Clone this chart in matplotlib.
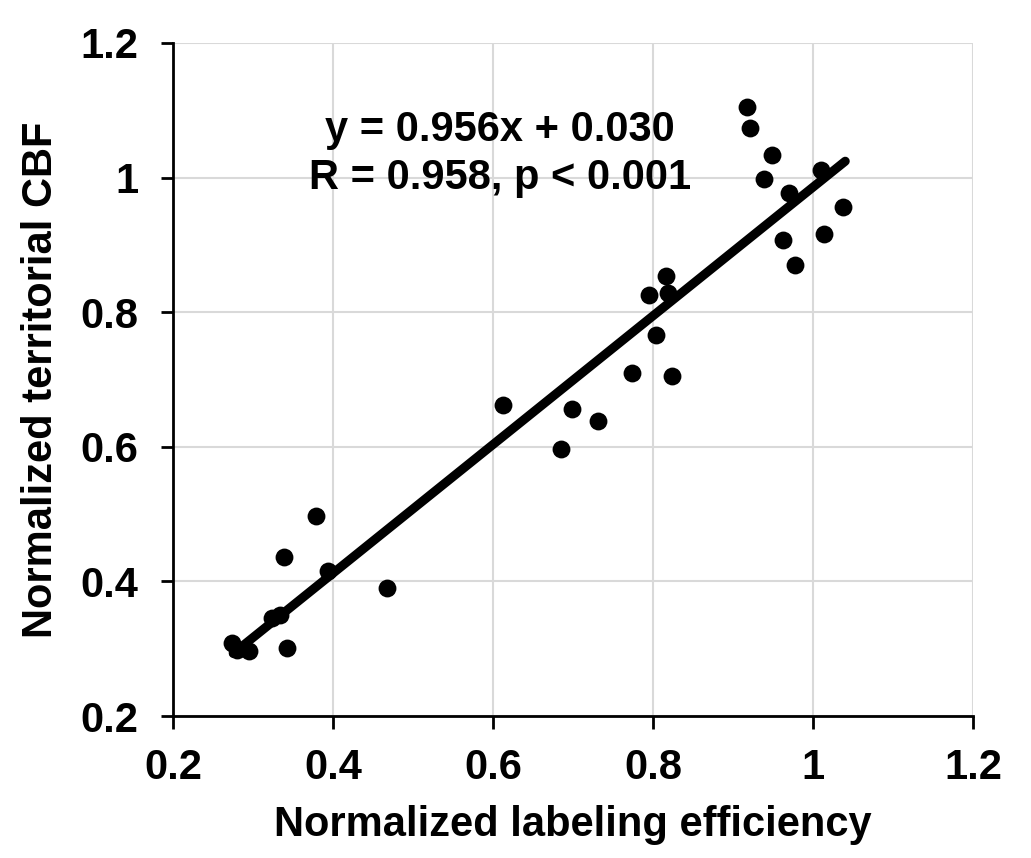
import matplotlib.pyplot as plt
import numpy as np

plt.rcParams['font.family'] = ['Liberation Sans', 'DejaVu Sans']
plt.rcParams['font.weight'] = 'bold'

# points
labeling_eff = [0.379, 0.339, 0.394, 0.4675, 0.324, 0.333, 0.274, 0.280, 0.295, 0.342,
                0.612, 0.685, 0.698, 0.731, 0.774, 0.823, 0.803, 0.795, 0.819, 0.816,
                0.917, 0.921, 0.948, 0.938, 0.970, 1.010, 1.037, 1.014, 0.962, 0.977]
territorial_cbf = [0.497, 0.436, 0.416, 0.390, 0.345, 0.350, 0.308, 0.298, 0.296, 0.301,
                   0.662, 0.597, 0.656, 0.639, 0.709, 0.705, 0.766, 0.826, 0.828, 0.853,
                   1.105, 1.074, 1.033, 0.998, 0.977, 1.011, 0.956, 0.916, 0.907, 0.870]

slope = 0.956
intercept = 0.030
fit_x = [0.275, 1.04]

fig = plt.figure(figsize=(10.31, 8.58), dpi=100)
ax = fig.add_axes([0.168, 0.1655, 0.776, 0.7845])

ax.grid(True, color='#d9d9d9', linewidth=1.5, zorder=0)
ax.set_axisbelow(True)
ax.scatter(labeling_eff, territorial_cbf, s=165, color='black', linewidths=0, zorder=3)
fx = np.array(fit_x)
ax.plot(fx, slope * fx + intercept, color='black', linewidth=6.5, solid_capstyle='round', zorder=4)

ax.set_xlim(0.2, 1.2)
ax.set_ylim(0.2, 1.2)
ax.set_xticks([0.2, 0.4, 0.6, 0.8, 1.0, 1.2])
ax.set_xticklabels(['0.2', '0.4', '0.6', '0.8', '1', '1.2'])
ax.set_yticks([0.2, 0.4, 0.6, 0.8, 1.0, 1.2])
ax.set_yticklabels(['0.2', '0.4', '0.6', '0.8', '1', '1.2'])
ax.tick_params(direction='out', length=9, width=2, labelsize=30)
ax.tick_params(axis='x', pad=14)
ax.tick_params(axis='y', pad=16)

for side in ['top', 'right']:
    ax.spines[side].set_visible(False)
for side in ['left', 'bottom']:
    ax.spines[side].set_linewidth(2)

ax.set_xlabel('Normalized labeling efficiency', fontsize=30, fontweight='bold', labelpad=12)
ax.set_ylabel('Normalized territorial CBF', fontsize=30, fontweight='bold', labelpad=14)

ax.text(0.608, 1.071, 'y = 0.956x + 0.030', fontsize=30, fontweight='bold', ha='center', va='center')
ax.text(0.608, 0.999, 'R = 0.958, p < 0.001', fontsize=30, fontweight='bold', ha='center', va='center')

fig.savefig('out.png', dpi=100)
